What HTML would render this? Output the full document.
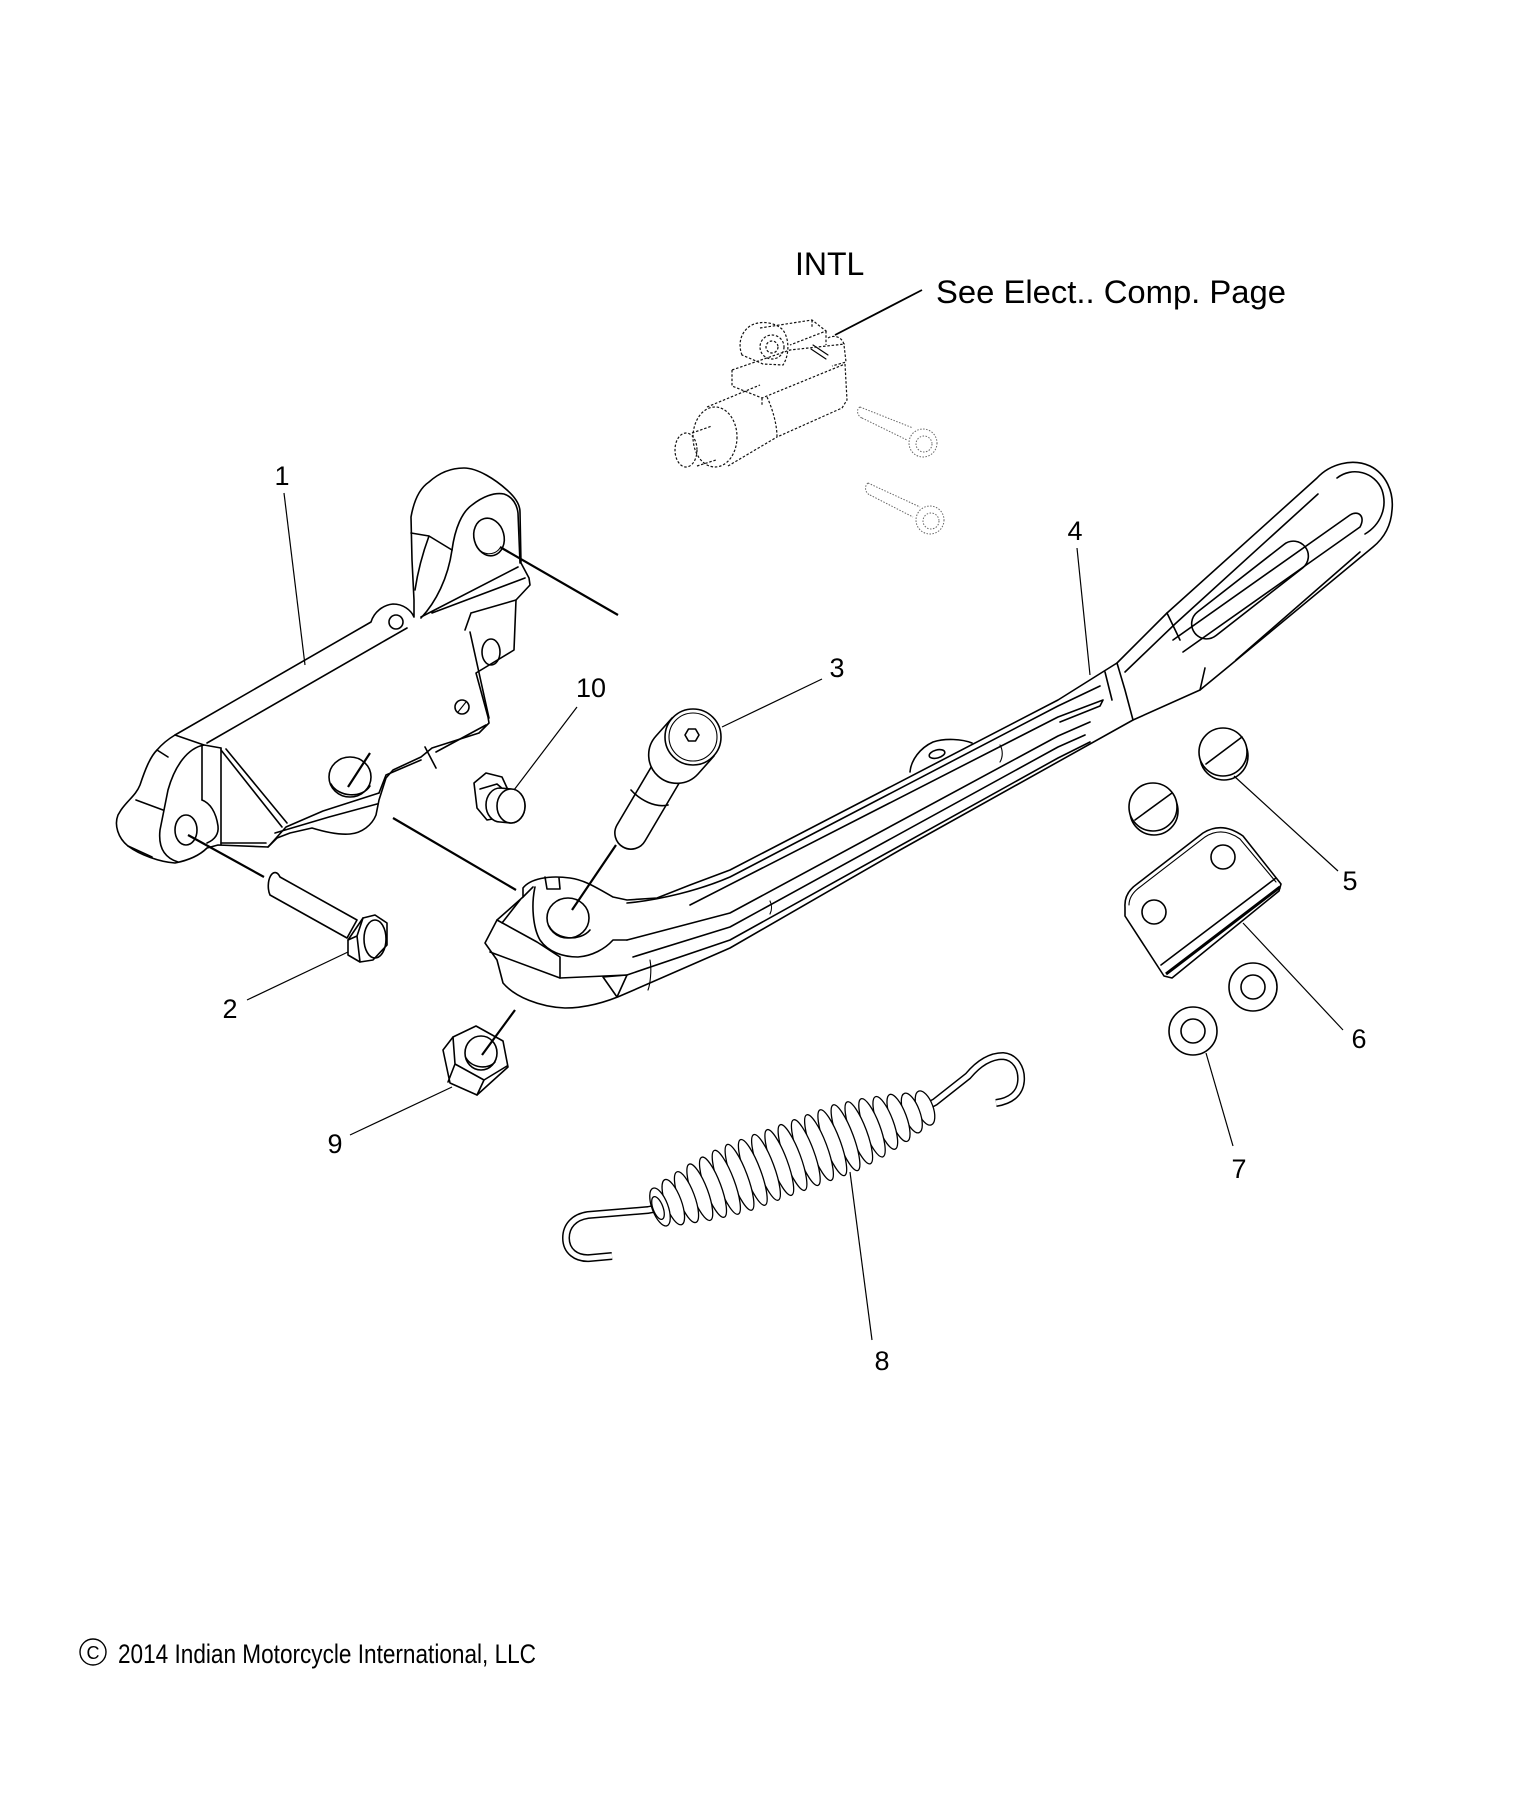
<!DOCTYPE html>
<html><head><meta charset="utf-8">
<style>
html,body{margin:0;padding:0;background:#fff;}
svg{display:block;}
.o{fill:none;stroke:#000;stroke-width:1.6;stroke-linejoin:round;stroke-linecap:round;}
.w{fill:#fff;stroke:#000;stroke-width:1.6;stroke-linejoin:round;}
.t{fill:none;stroke:#000;stroke-width:1.1;stroke-linecap:round;}
.l{fill:none;stroke:#000;stroke-width:1.2;}
.k{fill:none;stroke:#000;stroke-width:2.2;}
.d{fill:none;stroke:#111;stroke-width:1.2;stroke-dasharray:2.5 1.8;}
.g{fill:none;stroke:#666;stroke-width:1;stroke-dasharray:1.5 1.5;}
text{font-family:"Liberation Sans",Arial,sans-serif;fill:#000;}
.n{font-size:27px;text-anchor:middle;}
</style></head><body>
<svg width="1516" height="1813" viewBox="0 0 1516 1813" xmlns="http://www.w3.org/2000/svg">
<rect width="1516" height="1813" fill="#fff"/>

<!-- ===== INTL solenoid (dashed) ===== -->
<g>
<path class="d" d="M742,355 C738,345 740,333 750,326 C760,320 775,322 783,330 C790,340 789,356 783,365 L763,364 Z"/>
<circle class="d" cx="772" cy="347" r="12"/>
<circle class="d" cx="772" cy="347" r="6"/>
<path class="d" d="M760,328 L812,320 L826,331 L790,345 M826,331 L826,345 M812,320 L812,327"/>
<path class="d" d="M828,338 C835,334 843,338 844,345 L846,362 L832,366"/>
<path class="t" d="M813,345 L828,355 M811,349 L826,359"/>
<path class="d" d="M732,370 L790,350 L845,344 M732,370 L732,386 L762,398 L845,364 M762,398 L762,405"/>
<path class="d" d="M845,364 L847,400 L842,408 L777,437 M767,397 C773,410 777,425 777,437"/>
<ellipse class="d" cx="715" cy="437" rx="22" ry="30"/>
<path class="d" d="M707,407 L760,385 M728,466 L777,437"/>
<ellipse class="d" cx="686" cy="450" rx="11" ry="17"/>
<path class="d" d="M692,433 L712,426 M697,466 L716,460"/>
<path class="g" d="M860,407 L913,428 M862,418 L907,440 M860,407 C856,409 857,416 862,418"/>
<circle class="g" cx="923" cy="443" r="14"/><circle class="g" cx="924" cy="444" r="8"/>
<path class="g" d="M868,483 L920,507 M870,495 L913,517 M868,483 C864,486 865,493 870,495"/>
<circle class="g" cx="930" cy="520" r="14"/><circle class="g" cx="931" cy="521" r="8"/>
<path d="M835,335 L922,290" stroke="#000" stroke-width="1.8" fill="none"/>
</g>
<text x="795" y="275" font-size="32">INTL</text>
<text x="936" y="303" font-size="32" textLength="350" lengthAdjust="spacingAndGlyphs">See Elect.. Comp. Page</text>

<!-- ===== Part 1 bracket ===== -->
<g>
<path class="w" d="M175,735 L371,622 C374,612 383,605 393,604 C403,604 411,610 414,617 L414,600 L412,560 L411,517 C414,500 420,488 429,482 C440,472 452,468 464,468 C478,468 496,480 507,490 C515,497 520,505 520,512 L521,563 L529,578 L530,585 L516,600 L514,650 L476,673 L488,717 L489,723 L479,733 L432,748 L421,757 L393,770 L386,778 L379,800 L376,815 C372,825 362,833 350,834 C338,835 325,832 312,828 L290,833 L277,838 L268,847 L218,845 L207,848 C200,855 190,860 175,863 C160,862 140,855 128,846 C118,838 114,825 118,815 L121,810 C128,800 136,795 140,785 C145,770 150,757 157,750 C163,743 170,738 175,735 Z"/>
<path class="o" d="M207,743 L386,640 L407,628"/>
<path class="o" d="M175,735 L204,745 L221,748"/>
<path class="o" d="M202,745 L202,800 M221,748 L221,845"/>
<path class="o" d="M221,750 L282,827 M226,749 L287,823"/>
<path class="o" d="M204,745 C188,748 175,765 168,790 L160,830 C158,848 165,858 178,862"/>
<path class="o" d="M157,750 L168,757 M136,800 L163,810 M128,846 L152,857"/>
<ellipse class="o" cx="186" cy="830" rx="11" ry="15"/>
<path class="o" d="M202,800 C210,803 216,812 218,826 C219,835 214,840 207,843"/>
<path class="o" d="M221,843 L266,843"/>
<path class="o" d="M268,847 L286,827 L323,811 L379,793 M275,833 L329,817 L377,804"/>
<ellipse class="o" cx="350" cy="777" rx="21" ry="20"/>
<path class="o" d="M331,784 C338,797 362,799 370,786"/>
<path class="o" d="M379,793 L386,775 L421,760 M436,752 L486,725 M425,747 L436,768"/>
<path class="o" d="M470,632 L489,718"/>
<path class="o" d="M471,613 L516,600 M471,613 L465,630"/>
<ellipse class="o" cx="491" cy="652" rx="9" ry="13"/>
<path class="o" d="M452,550 C455,528 462,512 472,505 C482,497 494,492 504,494 C513,497 517,505 518,513 L520,563"/>
<path class="o" d="M452,550 C448,578 436,602 421,618"/>
<path class="o" d="M411,533 L429,536 L452,550 M429,536 C422,555 418,570 415,590"/>
<path class="o" d="M421,617 L518,567 M432,613 L525,578"/>
<ellipse class="o" cx="489" cy="537" rx="15" ry="19" transform="rotate(-15 489 537)"/>
<path class="t" d="M476,545 C480,555 494,557 500,548"/>
<circle class="o" cx="396" cy="622" r="7"/>
<circle class="o" cx="462" cy="707" r="7"/>
<path class="t" d="M458,712 L466,702"/>
</g>

<!-- ===== Part 4 kickstand ===== -->
<g>
<path class="w" d="M523,888 C530,879 548,875 570,878 C585,880 597,888 613,897 L627,900 L657,898 L690,885 L730,870 L1058,700 L1117,663 L1167,613 L1317,478 C1330,464 1352,458 1370,466 C1386,474 1394,492 1392,510 C1391,526 1384,538 1373,547 L1228,667 L1200,690 L1133,720 L900,850 L730,948 L627,993 C605,1003 585,1008 565,1008 C540,1007 515,997 503,983 L497,960 L485,943 L497,920 L523,897 Z"/>
<path class="o" d="M497,920 L537,942 L560,957 L560,978 M490,952 L560,978 M502,923 L520,900 M523,897 L533,887"/>
<path class="o" d="M535,887 C531,905 533,928 540,940 C548,952 563,957 578,957 C592,956 605,949 613,940 L627,940"/>
<ellipse class="o" cx="568" cy="918" rx="21" ry="20"/>
<path class="o" d="M549,926 C556,940 580,942 590,930"/>
<path class="o" d="M545,877 L547,889 L560,889 L559,878"/>
<path class="o" d="M560,978 L627,975 L730,940 L1058,758 L1090,742"/>
<path class="o" d="M603,977 L627,975 L617,997 Z"/>
<path class="o" d="M627,903 C660,900 700,890 730,877 L1058,706 L1100,686"/>
<path class="o" d="M690,905 L1058,717 L1103,700 L1100,706 L1060,722"/>
<path class="o" d="M627,940 L730,913 L1058,736 L1090,722"/>
<path class="o" d="M633,957 L730,927 L1058,747 L1085,735"/>
<path class="t" d="M770,901 C772,905 772,910 770,914 M1000,745 C1003,750 1003,757 1000,762 M650,960 C652,970 650,985 648,990"/>
<path class="o" d="M1125,672 L1175,624 L1318,494"/>
<path class="o" d="M1173,640 L1350,515 M1183,652 L1360,527 M1350,515 C1358,510 1366,516 1360,527"/>
<rect class="o" x="-70" y="-15" width="140" height="30" rx="15" transform="translate(1250,590) rotate(-38)"/>
<path class="o" d="M1236,660 L1360,552"/>
<path class="o" d="M1337,478 C1352,466 1375,472 1382,490 C1388,508 1380,525 1365,534"/>
<path class="o" d="M1117,663 L1125,690 L1133,720 M1105,672 L1112,700 M1167,613 L1180,640 M1200,690 L1205,668"/>
<path class="o" d="M910,772 C911,760 920,748 933,742 C945,738 962,739 972,743"/>
<ellipse class="o" cx="937" cy="754" rx="8" ry="4" transform="rotate(-15 937 754)"/>
</g>

<!-- ===== Part 3 bolt ===== -->
<g>
<path class="w" d="M663,747 L617,825 A16,16 0 0 0 645,841 L691,763 Z"/>
<path class="o" d="M631,790 C640,800 655,808 668,805"/>
<path class="w" d="M672,718 L656,736 A28,28 0 0 0 698,774 L714,756 Z"/>
<circle class="w" cx="693" cy="737" r="28"/>
<circle class="t" cx="693" cy="737" r="24"/>
<polygon class="o" points="699,735 695.5,741 688.5,741 685,735 688.5,729 695.5,729"/>
</g>

<!-- ===== Part 10 plug ===== -->
<g>
<path class="w" d="M474,783 L486,773 L502,777 L508,790 L498,818 L487,820 L477,808 Z"/>
<path class="o" d="M480,789 L497,784 L504,790"/>
<path class="w" d="M500,788 L511,789 A14,17 0 0 1 511,823 L500,822 A14,17 0 0 1 500,788 Z"/>
<ellipse class="w" cx="511" cy="806" rx="14" ry="17"/>
</g>

<!-- ===== Part 2 bolt ===== -->
<g>
<path class="w" d="M280,877 L357,920 L347,938 L270,895 A5,10 0 0 1 280,877 Z"/>
<polygon class="w" points="348,940 348,955 360,962 373,960 387,945 387,923 375,915 363,918"/>
<path class="o" d="M363,918 L357,936 L348,940 M357,936 L360,962"/>
<ellipse class="o" cx="375" cy="939" rx="11" ry="19"/>
</g>

<!-- ===== Part 9 nut ===== -->
<g>
<polygon class="w" points="443,1050 453,1037 476,1026 503,1041 508,1067 477,1095 450,1083"/>
<path class="o" d="M453,1037 L455,1064 L484,1080 L507,1066 M484,1080 L477,1095 M455,1064 L448,1082"/>
<ellipse class="o" cx="481" cy="1053" rx="16" ry="17"/>
<path class="o" d="M466,1058 C472,1068 488,1070 495,1062"/>
</g>

<!-- ===== Part 8 spring ===== -->
<g>
<path d="M664,1207 L648,1210 L588,1215 C574,1217 566,1226 566,1238 C566,1251 576,1259 590,1258 L612,1256" fill="none" stroke="#000" stroke-width="8"/>
<path d="M664,1207 L648,1210 L588,1215 C574,1217 566,1226 566,1238 C566,1251 576,1259 590,1258 L612,1256" fill="none" stroke="#fff" stroke-width="5"/>
<path d="M920,1110 L935,1102 L968,1076 C978,1064 990,1056 1003,1056 C1015,1057 1022,1068 1021,1081 C1020,1094 1010,1101 996,1103" fill="none" stroke="#000" stroke-width="8"/>
<path d="M920,1110 L935,1102 L968,1076 C978,1064 990,1056 1003,1056 C1015,1057 1022,1068 1021,1081 C1020,1094 1010,1101 996,1103" fill="none" stroke="#fff" stroke-width="5"/>
<g fill="#fff" stroke="#000" stroke-width="1.3">
<ellipse cx="925" cy="1108" rx="8" ry="18" transform="rotate(-20.5 925 1108)"/>
<ellipse cx="911.8" cy="1113" rx="8" ry="21" transform="rotate(-20.5 911.8 1113)"/>
<ellipse cx="898.5" cy="1117.9" rx="8" ry="25" transform="rotate(-20.5 898.5 1117.9)"/>
<ellipse cx="885.3" cy="1122.9" rx="8" ry="28" transform="rotate(-20.5 885.3 1122.9)"/>
<ellipse cx="872" cy="1127.8" rx="8" ry="31" transform="rotate(-20.5 872 1127.8)"/>
<ellipse cx="858.8" cy="1132.8" rx="8" ry="33" transform="rotate(-20.5 858.8 1132.8)"/>
<ellipse cx="845.5" cy="1137.7" rx="8" ry="35" transform="rotate(-20.5 845.5 1137.7)"/>
<ellipse cx="832.3" cy="1142.7" rx="8" ry="35" transform="rotate(-20.5 832.3 1142.7)"/>
<ellipse cx="819" cy="1147.6" rx="8" ry="35" transform="rotate(-20.5 819 1147.6)"/>
<ellipse cx="805.8" cy="1152.6" rx="8" ry="35" transform="rotate(-20.5 805.8 1152.6)"/>
<ellipse cx="792.5" cy="1157.5" rx="8" ry="35" transform="rotate(-20.5 792.5 1157.5)"/>
<ellipse cx="779.3" cy="1162.5" rx="8" ry="35" transform="rotate(-20.5 779.3 1162.5)"/>
<ellipse cx="766" cy="1167.4" rx="8" ry="35" transform="rotate(-20.5 766 1167.4)"/>
<ellipse cx="752.8" cy="1172.4" rx="8" ry="35" transform="rotate(-20.5 752.8 1172.4)"/>
<ellipse cx="739.5" cy="1177.3" rx="8" ry="35" transform="rotate(-20.5 739.5 1177.3)"/>
<ellipse cx="726.3" cy="1182.3" rx="8" ry="34" transform="rotate(-20.5 726.3 1182.3)"/>
<ellipse cx="713" cy="1187.2" rx="8" ry="32" transform="rotate(-20.5 713 1187.2)"/>
<ellipse cx="699.8" cy="1192.2" rx="8" ry="30" transform="rotate(-20.5 699.8 1192.2)"/>
<ellipse cx="686.5" cy="1197.1" rx="8" ry="27" transform="rotate(-20.5 686.5 1197.1)"/>
<ellipse cx="673.3" cy="1202.1" rx="8" ry="24" transform="rotate(-20.5 673.3 1202.1)"/>
<ellipse cx="660" cy="1207" rx="8" ry="20" transform="rotate(-20.5 660 1207)"/>
<ellipse cx="658" cy="1208" rx="5" ry="12" transform="rotate(-20.5 658 1208)"/>
</g>
</g>

<!-- ===== Parts 5,6,7 ===== -->
<g>
<circle class="w" cx="1224" cy="756" r="24" stroke-width="2"/>
<circle class="w" cx="1223" cy="752" r="24"/>
<path class="o" d="M1206,764 L1242,737"/>
<circle class="w" cx="1154" cy="811" r="24" stroke-width="2"/>
<circle class="w" cx="1153" cy="807" r="24"/>
<path class="o" d="M1135,820 L1172,793"/>
<path class="w" d="M1125,907 Q1124,893 1137,884 L1203,833 Q1222,821 1243,836 L1281,884 L1279,891 L1172,978 L1164,976 L1125,916 Z"/>
<path class="t" d="M1129,905 Q1129,895 1140,887 L1205,837 Q1222,826 1240,839 L1276,882"/>
<path class="o" d="M1161,965 L1276,878"/>
<path d="M1166,974 L1280,887" stroke="#000" stroke-width="3" fill="none"/>
<circle class="o" cx="1223" cy="857" r="12"/>
<circle class="o" cx="1154" cy="912" r="12"/>
<circle class="o" cx="1253" cy="987" r="24"/>
<circle class="o" cx="1253" cy="987" r="12"/>
<circle class="o" cx="1193" cy="1031" r="24"/>
<circle class="o" cx="1193" cy="1031" r="12"/>
</g>

<!-- ===== explosion lines ===== -->
<g class="k">
<path d="M500,547 L618,615"/>
<path d="M393,818 L516,890"/>
<path d="M188,835 L264,877"/>
<path d="M348,787 L370,753"/>
<path d="M616,845 L572,910"/>
<path d="M482,1055 L515,1010"/>
</g>

<!-- ===== leaders ===== -->
<g class="l">
<path d="M284,493 L305,665"/>
<path d="M247,1000 L348,952"/>
<path d="M722,727 L822,679"/>
<path d="M1077,548 L1090,675"/>
<path d="M1234,776 L1338,871"/>
<path d="M1243,923 L1343,1030"/>
<path d="M1206,1053 L1233,1146"/>
<path d="M850,1172 L872,1340"/>
<path d="M452,1087 L350,1135"/>
<path d="M577,707 L514,790"/>
</g>

<!-- ===== labels ===== -->
<text class="n" x="282" y="485">1</text>
<text class="n" x="230" y="1018">2</text>
<text class="n" x="837" y="677">3</text>
<text class="n" x="1075" y="540">4</text>
<text class="n" x="1350" y="890">5</text>
<text class="n" x="1359" y="1048">6</text>
<text class="n" x="1239" y="1178">7</text>
<text class="n" x="882" y="1370">8</text>
<text class="n" x="335" y="1153">9</text>
<text class="n" x="591" y="697">10</text>

<!-- ===== copyright ===== -->
<circle cx="93" cy="1652" r="13" fill="none" stroke="#000" stroke-width="1.4"/>
<text x="93" y="1659" font-size="18" text-anchor="middle">C</text>
<text x="118" y="1663" font-size="27" textLength="418" lengthAdjust="spacingAndGlyphs">2014 Indian Motorcycle International, LLC</text>
</svg>
</body></html>
